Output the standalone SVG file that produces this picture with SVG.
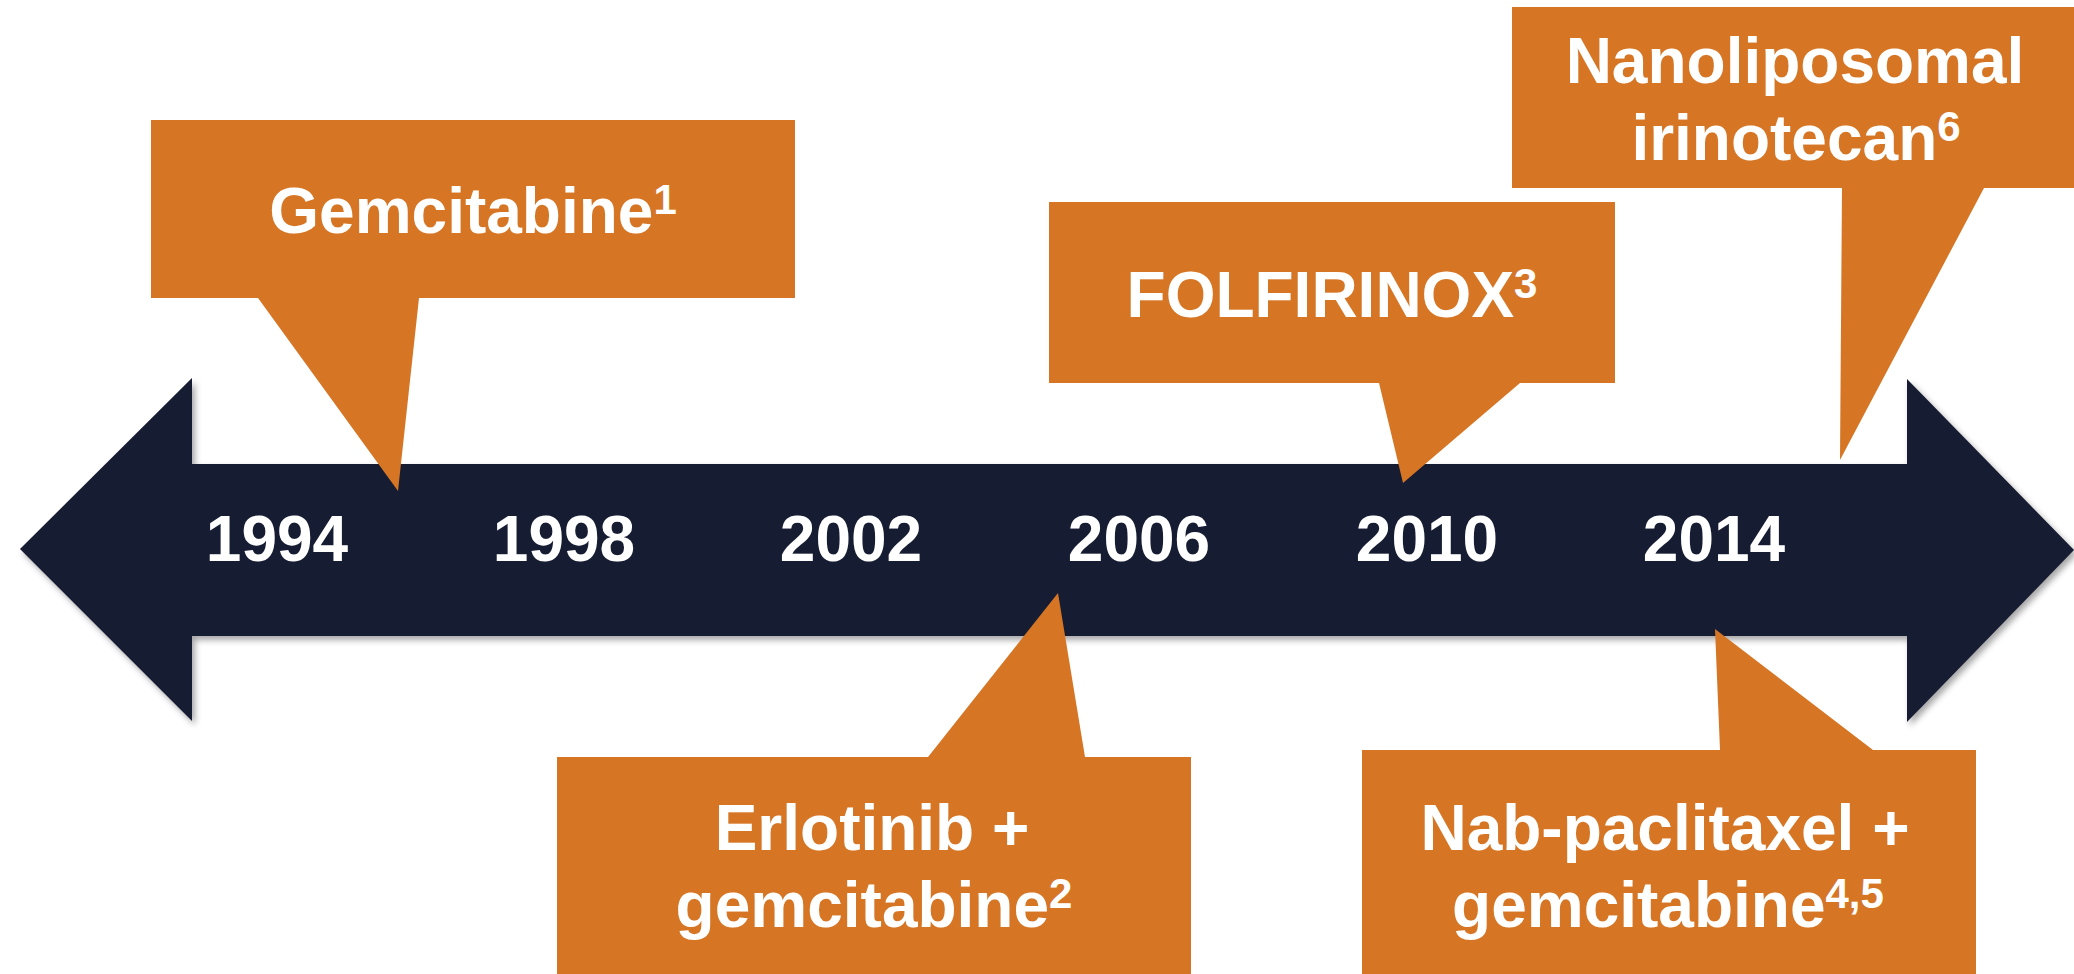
<svg xmlns="http://www.w3.org/2000/svg" width="2074" height="974" viewBox="0 0 2074 974">
  <defs>
    <filter id="shadow" x="-5%" y="-10%" width="110%" height="125%">
      <feDropShadow dx="3" dy="4" stdDeviation="3" flood-color="#000" flood-opacity="0.35"/>
    </filter>
  </defs>
  <style>
    .callout { fill: #D67625; }
    .lbl { font-family: "Liberation Sans", Arial, sans-serif; font-weight: bold; font-size: 64px; fill: #FFFFFF; text-anchor: middle; }
    .sup { font-size: 42px; }
    .year { font-family: "Liberation Sans", Arial, sans-serif; font-weight: bold; font-size: 64px; fill: #FFFFFF; text-anchor: middle; }
  </style>
  <rect width="2074" height="974" fill="#FFFFFF"/>

  <g id="timeline">
    <path d="M20,549 L192,378 V464 H1907 V379 L2074,550 L1907,722 V636 H192 V721 Z" fill="#171B30" filter="url(#shadow)"/>
    <text class="year" x="277" y="561">1994</text>
    <text class="year" x="564" y="561">1998</text>
    <text class="year" x="851" y="561">2002</text>
    <text class="year" x="1139" y="561">2006</text>
    <text class="year" x="1427" y="561">2010</text>
    <text class="year" x="1714" y="561">2014</text>
  </g>

  <g id="connectors"></g>

  <g id="gemcitabine">
    <path class="callout" d="M151,120 H795 V298 H419 L398,491 L258,298 H151 Z"/>
    <text class="lbl" x="473" y="233">Gemcitabine<tspan class="sup" dy="-19">1</tspan></text>
  </g>

  <g id="nanoliposomal">
    <path class="callout" d="M1512,7 H2074 V188 H1984 L1840,460 L1842,188 H1512 Z"/>
    <text class="lbl" x="1795" y="83">Nanoliposomal</text>
    <text class="lbl" x="1796" y="160">irinotecan<tspan class="sup" dy="-19">6</tspan></text>
  </g>

  <g id="folfirinox">
    <path class="callout" d="M1049,202 H1615 V383 H1520 L1403,483 L1379,383 H1049 Z"/>
    <text class="lbl" x="1332" y="317">FOLFIRINOX<tspan class="sup" dy="-19">3</tspan></text>
  </g>

  <g id="erlotinib">
    <path class="callout" d="M557,757 H928 L1058,593 L1085,757 H1191 V974 H557 Z"/>
    <text class="lbl" x="872" y="850">Erlotinib +</text>
    <text class="lbl" x="874" y="927">gemcitabine<tspan class="sup" dy="-19">2</tspan></text>
  </g>

  <g id="nab-paclitaxel">
    <path class="callout" d="M1362,750 H1720 L1715,629 L1873,750 H1976 V974 H1362 Z"/>
    <text class="lbl" x="1665" y="850">Nab-paclitaxel +</text>
    <text class="lbl" x="1668" y="927">gemcitabine<tspan class="sup" dy="-19">4,5</tspan></text>
  </g>
</svg>
